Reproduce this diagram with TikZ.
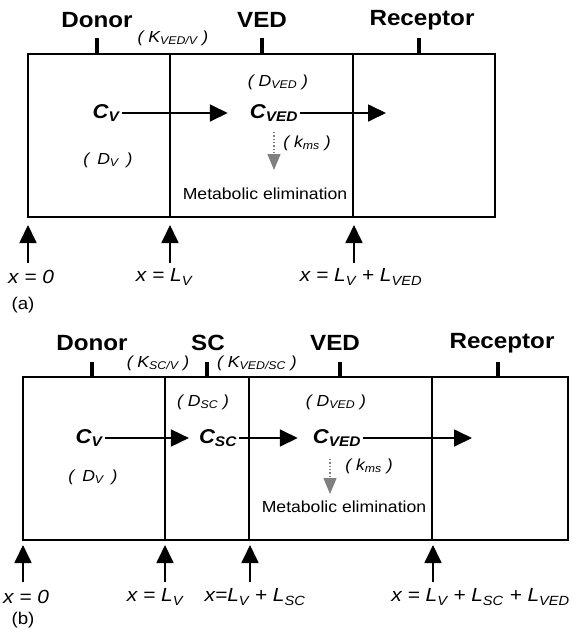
\documentclass[tikz,border=0pt]{standalone}
\usepackage{fontspec}
\setmainfont{Liberation Sans}[FakeStretch=1.1]
\usetikzlibrary{arrows.meta}
\tikzset{
  comptitle/.style={font=\bfseries\fontsize{22}{24}\selectfont, inner sep=0pt},
  conc/.style={font=\bfseries\itshape\fontsize{20}{22}\selectfont, inner sep=2pt},
  param/.style={font=\itshape\fontsize{16}{18}\selectfont, inner sep=0pt},
  xlabel/.style={font=\itshape\fontsize{19}{20}\selectfont, inner sep=0pt},
  plain/.style={font=\fontsize{16}{18}\selectfont, inner sep=0pt},
  wall/.style={line width=1.7pt},
  tickmark/.style={line width=3.5pt},
  flux/.style={line width=1.8pt, -{Triangle[length=18pt,width=17pt]}},
  bound/.style={line width=1.8pt, -{Triangle[length=18pt,width=17pt]}},
  elim/.style={gray, line width=1.3pt, dotted, -{Triangle[length=16pt,width=13pt]}}
}
\begin{document}
\begin{tikzpicture}[x=1pt,y=-1pt]
\useasboundingbox (0,0) rectangle (572,630);
% (a) donor - VED - receptor
\draw[wall] (28,54) rectangle (495,217);
\draw[wall] (170,54) -- (170,217);
\draw[wall] (353,54) -- (353,217);
\draw[tickmark] (97,38) -- (97,54);
\draw[tickmark] (262,38) -- (262,54);
\draw[tickmark] (419,38) -- (419,54);
\node[comptitle](donA) at (97,20) {Donor};
\node[comptitle](vedA) at (262,20) {VED};
\node[comptitle](recA) at (422,20) {Receptor};
\node[param](kA) at (173,38) {( K\textsubscript{VED/V} )};
\node[param](dvedA) at (278,82) {( D\textsubscript{VED} )};
\node[param](dvA) at (108,160) {(\enspace D\textsubscript{V}\enspace)};
\node[conc](cvA) at (106,113) {C\textsubscript{V}};
\node[conc](cvedA) at (274,113) {C\textsubscript{VED}};
\coordinate (outA) at (386,113);
\node[param](kmsA) at (307,143) {( k\textsubscript{ms} )};
\node[plain](metA) at (265,194) {Metabolic elimination};
\coordinate (elimA1) at (274,132);
\coordinate (elimA2) at (274,170);
%
\draw[flux, shorten >=20pt](cvA.east) -- (cvedA.west);
\draw[flux](cvedA.east) -- (outA);
\draw[elim](elimA1) -- (elimA2);
%
\coordinate (a0) at (28,225);
\coordinate (a1) at (170,225);
\coordinate (a2) at (354,225);
\coordinate (a0b) at (28,263);
\coordinate (a1b) at (170,263);
\coordinate (a2b) at (354,263);
\draw[bound](a0b) -- (a0);
\draw[bound](a1b) -- (a1);
\draw[bound](a2b) -- (a2);
\node[xlabel](xa0) at (31,277) {x = 0};
\node[xlabel](xa1) at (164,277) {x = L\textsubscript{V}};
\node[xlabel](xa2) at (361,277) {x = L\textsubscript{V} + L\textsubscript{VED}};
\node[plain, font=\fontsize{17}{18}\selectfont](labA) at (23,305) {(a)};
% (b) donor - SC - VED - receptor
\draw[wall] (23,377) rectangle (568,540);
\draw[wall] (165,377) -- (165,540);
\draw[wall] (249,377) -- (249,540);
\draw[wall] (432,377) -- (432,540);
\draw[tickmark] (92,362) -- (92,377);
\draw[tickmark] (207,362) -- (207,377);
\draw[tickmark] (340,362) -- (340,377);
\draw[tickmark] (498,362) -- (498,377);
\node[comptitle](donB) at (92,343) {Donor};
\node[comptitle](scB) at (208,343) {SC};
\node[comptitle](vedB) at (335,343) {VED};
\node[comptitle](recB) at (502,343) {Receptor};
\node[param](kscB) at (158,363) {( K\textsubscript{SC/V} )};
\node[param](kvedB) at (257,363) {( K\textsubscript{VED/SC} )};
\node[param](dscB) at (203,402) {( D\textsubscript{SC} )};
\node[param](dvedB) at (336,402) {( D\textsubscript{VED} )};
\node[param](dvB) at (93,477) {(\enspace D\textsubscript{V}\enspace)};
\node[conc](cvB) at (89,438) {C\textsubscript{V}};
\node[conc](cscB) at (218,438) {C\textsubscript{SC}};
\node[conc](cvedB) at (337,438) {C\textsubscript{VED}};
\coordinate (outB) at (472,438);
\node[param](kmsB) at (369,466) {( k\textsubscript{ms} )};
\node[plain](metB) at (344,507) {Metabolic elimination};
\coordinate (elimB1) at (330,459);
\coordinate (elimB2) at (330,494);
%
\draw[flux, shorten >=8pt](cvB.east) -- (cscB.west);
\draw[flux, shorten >=13pt](cscB.east) -- (cvedB.west);
\draw[flux](cvedB.east) -- (outB);
\draw[elim](elimB1) -- (elimB2);
%
\coordinate (b0) at (23,545);
\coordinate (b1) at (165,545);
\coordinate (b2) at (250,545);
\coordinate (b3) at (433,545);
\coordinate (b0b) at (23,582);
\coordinate (b1b) at (165,582);
\coordinate (b2b) at (250,582);
\coordinate (b3b) at (433,582);
\draw[bound](b0b) -- (b0);
\draw[bound](b1b) -- (b1);
\draw[bound](b2b) -- (b2);
\draw[bound](b3b) -- (b3);
\node[xlabel](xb0) at (26,597) {x = 0};
\node[xlabel](xb1) at (155,597) {x = L\textsubscript{V}};
\node[xlabel](xb2) at (255,597) {x=L\textsubscript{V} + L\textsubscript{SC}};
\node[xlabel, anchor=east](xb3) at (570,597) {x = L\textsubscript{V} + L\textsubscript{SC} + L\textsubscript{VED}};
\node[plain, font=\fontsize{17}{18}\selectfont](labB) at (23,620) {(b)};
\end{tikzpicture}
\end{document}
